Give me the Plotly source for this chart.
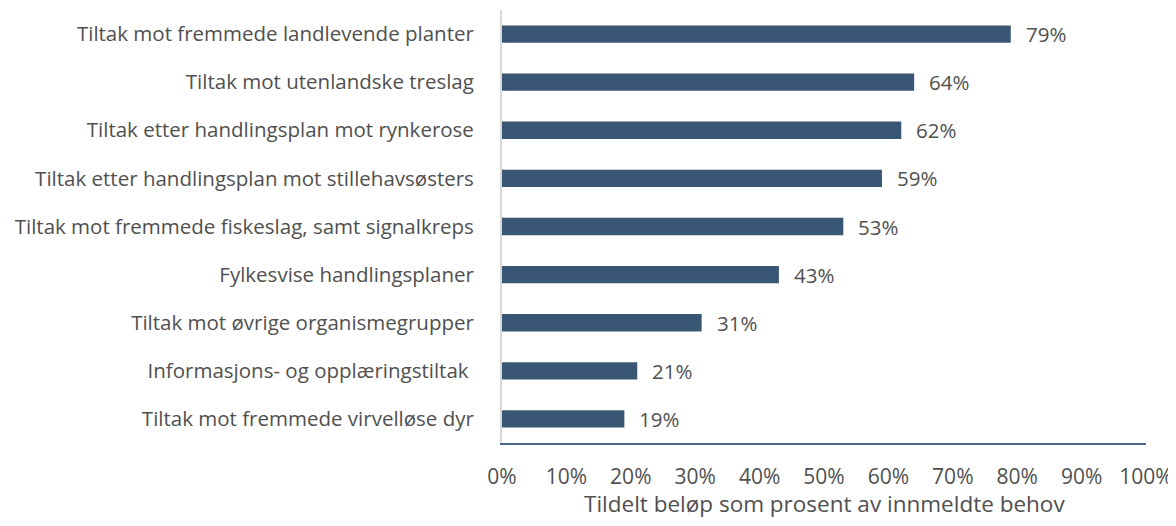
import plotly.graph_objects as go

categories = [
    "Tiltak mot fremmede landlevende planter",
    "Tiltak mot utenlandske treslag",
    "Tiltak etter handlingsplan mot rynkerose",
    "Tiltak etter handlingsplan mot stillehavsøsters",
    "Tiltak mot fremmede fiskeslag, samt signalkreps",
    "Fylkesvise handlingsplaner",
    "Tiltak mot øvrige organismegrupper",
    "Informasjons- og opplæringstiltak ",
    "Tiltak mot fremmede virvelløse dyr",
]
values = [79, 64, 62, 59, 53, 43, 31, 21, 19]
tick_vals = [0, 10, 20, 30, 40, 50, 60, 70, 80, 90, 100]
tick_text = [f"{v}%" for v in tick_vals]
x_title = "Tildelt beløp som prosent av innmeldte behov"

FONT = "Open Sans, sans-serif"
GREY = "#505050"

fig = go.Figure()
fig.add_trace(go.Bar(
    y=categories,
    x=values,
    orientation="h",
    marker=dict(color="#3A5675", line=dict(width=0)),
    width=0.36,
    hoverinfo="skip",
))

for c, v in zip(categories, values):
    fig.add_annotation(
        x=v, y=c, text=f"{v}%", showarrow=False,
        xanchor="left", xshift=13,
        font=dict(family=FONT, size=20.5, color=GREY),
    )

# x-axis title
fig.add_annotation(
    x=0.5, y=0, xref="paper", yref="paper", text=x_title,
    showarrow=False, xanchor="center", yanchor="middle", yshift=-60,
    font=dict(family=FONT, size=22.5, color=GREY),
)

fig.update_layout(
    width=1168, height=510,
    margin=dict(l=494, r=30, t=2, b=75),
    paper_bgcolor="white", plot_bgcolor="white",
    showlegend=False,
    font=dict(family=FONT, color=GREY),
    xaxis=dict(
        range=[0, 100],
        automargin=False,
        tickvals=tick_vals, ticktext=tick_text,
        showgrid=False, zeroline=False,
        showline=True, linecolor="#4A6688", linewidth=1.5,
        ticks="", ticklabelstandoff=14,
        ticklabeloverflow="allow",
        tickfont=dict(family=FONT, size=21, color=GREY),
    ),
    yaxis=dict(
        autorange="reversed",
        automargin=False,
        showgrid=False, zeroline=False,
        showline=True, linecolor="#D9D9D9", linewidth=2,
        ticks="", ticklabelstandoff=22,
        tickfont=dict(family=FONT, size=20.5, color=GREY),
    ),
)

fig.write_html("out.html")
